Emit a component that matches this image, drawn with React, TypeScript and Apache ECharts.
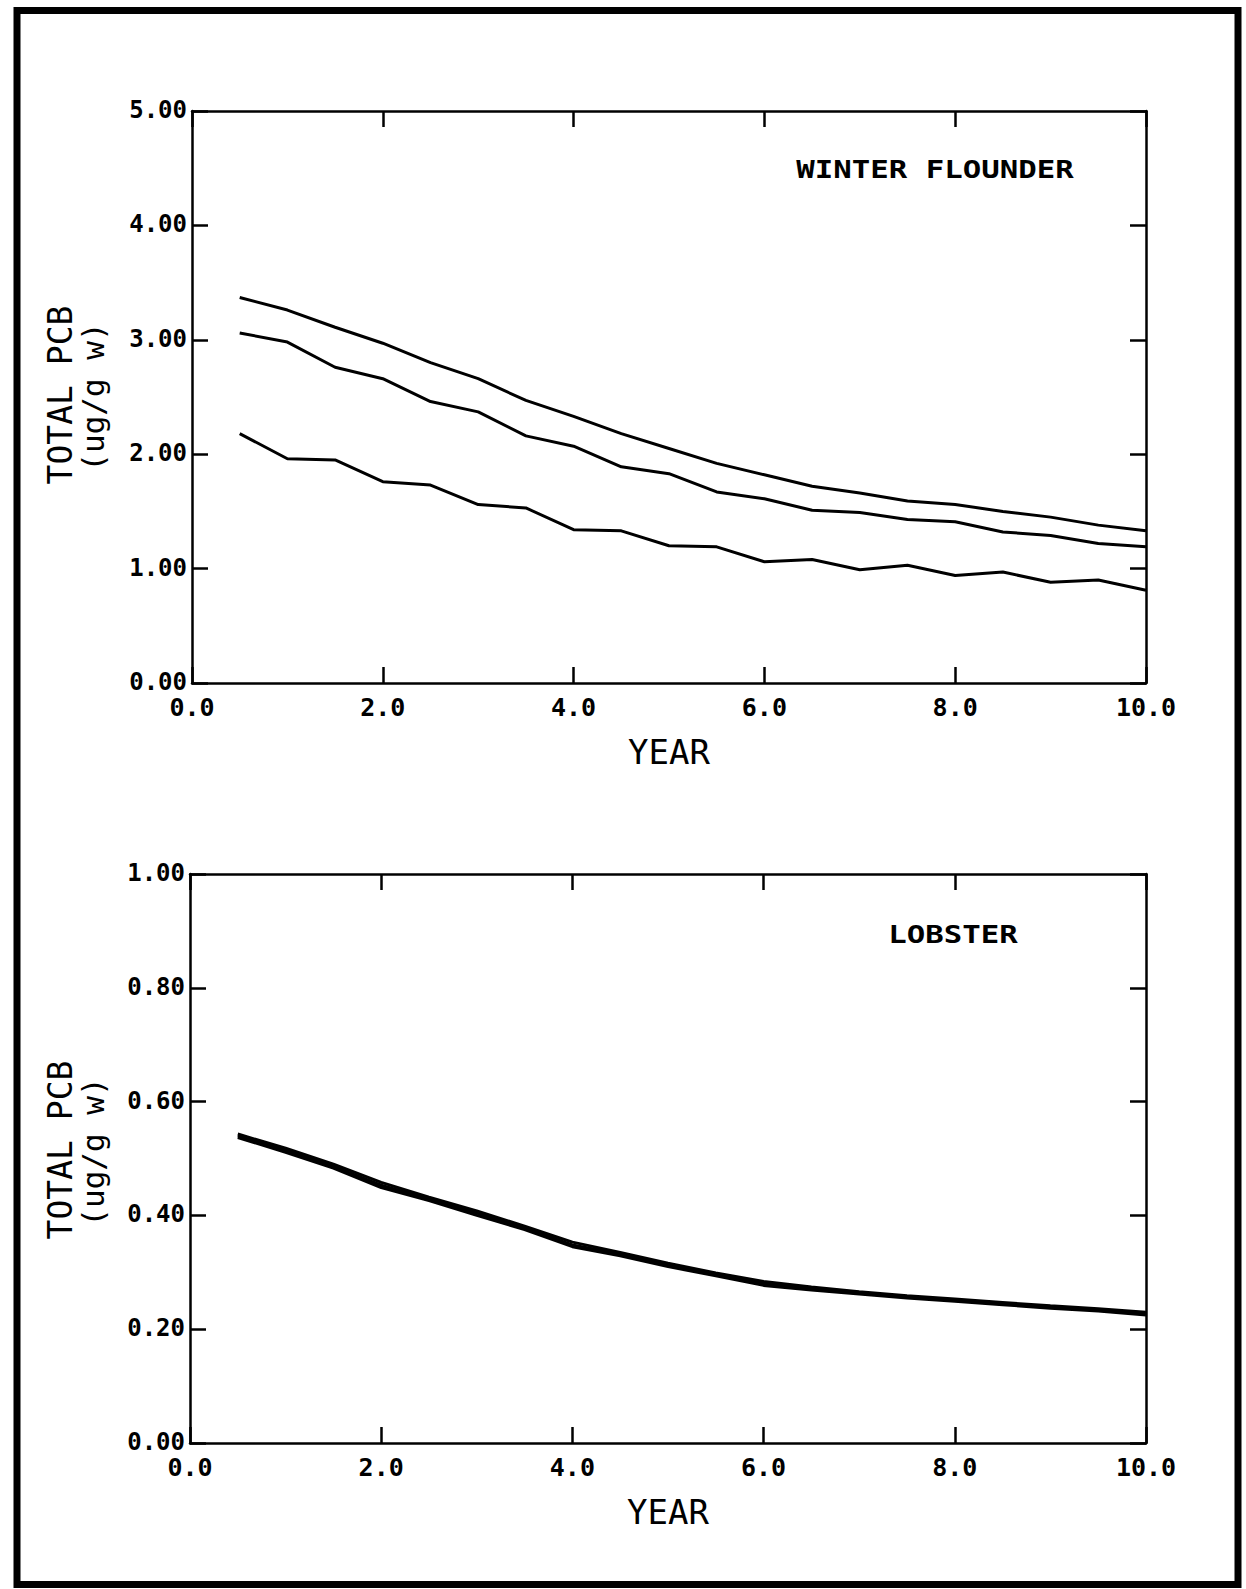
import React, { useEffect, useRef } from "react";
import * as echarts from "echarts";

const years = [0.5, 1.0, 1.5, 2.0, 2.5, 3.0, 3.5, 4.0, 4.5, 5.0, 5.5, 6.0, 6.5, 7.0, 7.5, 8.0, 8.5, 9.0, 9.5, 10.0];

const flounderUpper = [3.37, 3.26, 3.11, 2.97, 2.80, 2.66, 2.47, 2.33, 2.18, 2.05, 1.92, 1.82, 1.72, 1.66, 1.59, 1.56, 1.50, 1.45, 1.38, 1.33];
const flounderMiddle = [3.06, 2.98, 2.76, 2.66, 2.46, 2.37, 2.16, 2.07, 1.89, 1.83, 1.67, 1.61, 1.51, 1.49, 1.43, 1.41, 1.32, 1.29, 1.22, 1.19];
const flounderLower = [2.18, 1.96, 1.95, 1.76, 1.73, 1.56, 1.53, 1.34, 1.33, 1.20, 1.19, 1.06, 1.08, 0.99, 1.03, 0.94, 0.97, 0.88, 0.90, 0.81];

const lobsterA = [0.540, 0.514, 0.486, 0.453, 0.429, 0.404, 0.378, 0.348, 0.332, 0.313, 0.297, 0.280, 0.271, 0.264, 0.257, 0.251, 0.245, 0.239, 0.234, 0.228];
const lobsterB = [0.543, 0.518, 0.490, 0.458, 0.432, 0.408, 0.381, 0.353, 0.335, 0.316, 0.299, 0.284, 0.274, 0.266, 0.259, 0.253, 0.247, 0.241, 0.236, 0.230];
const lobsterC = [0.537, 0.511, 0.483, 0.449, 0.426, 0.400, 0.375, 0.345, 0.329, 0.310, 0.294, 0.277, 0.269, 0.262, 0.255, 0.249, 0.243, 0.237, 0.232, 0.225];

const xTitle = "YEAR";
const yTitle1 = "TOTAL PCB";
const yTitle2 = "(ug/g w)";
const panelTitles = ["WINTER FLOUNDER", "LOBSTER"];

const MONO = "'DejaVu Sans Mono', monospace";

export default function App() {
  const ref = useRef<HTMLDivElement>(null);

  useEffect(() => {
    document.body.style.margin = "0";
    const chart = echarts.init(ref.current!, null, { renderer: "svg" });

    const axisLine = { show: true, onZero: false, lineStyle: { color: "#000", width: 2.5 } };
    const axisTick = { show: true, inside: true, length: 16, lineStyle: { color: "#000", width: 2.5 } };

    const xAxes = (g: number) => [
      {
        type: "value", gridIndex: g, min: 0, max: 10, interval: 2, position: "bottom",
        axisLine, axisTick, splitLine: { show: false },
        axisLabel: {
          margin: 12, fontFamily: MONO, fontSize: 25, fontWeight: "bold", color: "#000",
          formatter: (v: number) => v.toFixed(1),
        },
        name: xTitle, nameLocation: "middle", nameGap: 52,
        nameTextStyle: { fontFamily: MONO, fontSize: 34, color: "#000", lineHeight: 34 },
      },
      {
        type: "value", gridIndex: g, min: 0, max: 10, interval: 2, position: "top",
        axisLine, axisTick, splitLine: { show: false }, axisLabel: { show: false },
      },
    ];

    const yAxes = (g: number, max: number, interval: number) => [
      {
        type: "value", gridIndex: g, min: 0, max, interval, position: "left",
        axisLine, axisTick, splitLine: { show: false },
        axisLabel: {
          margin: 5, fontFamily: MONO, fontSize: 24, fontWeight: "bold", color: "#000",
          verticalAlign: "bottom", lineHeight: 2,
          formatter: (v: number) => v.toFixed(2),
        },
      },
      {
        type: "value", gridIndex: g, min: 0, max, interval, position: "right",
        axisLine, axisTick, splitLine: { show: false }, axisLabel: { show: false },
      },
    ];

    const line = (data: number[], xi: number, yi: number) => ({
      type: "line", xAxisIndex: xi, yAxisIndex: yi,
      data: years.map((x, i) => [x, data[i]]),
      symbol: "none", showSymbol: false, silent: true,
      lineStyle: { color: "#000", width: 3 },
    });

    const titleText = (text: string, x: number, y: number) => ({
      type: "text", x, y, scaleX: 1.28,
      style: { text, fontFamily: MONO, fontSize: 24, fontWeight: "bold", fill: "#000", textAlign: "center", textVerticalAlign: "middle" },
    });

    const yTitle = (text: string, x: number, y: number, size: number) => ({
      type: "text", x, y, rotation: Math.PI / 2,
      style: { text, fontFamily: MONO, fontSize: size, fill: "#000", textAlign: "center", textVerticalAlign: "middle" },
    });

    chart.setOption({
      animation: false,
      backgroundColor: "#fff",
      grid: [
        { left: 192, top: 111, width: 954, height: 572 },
        { left: 190, top: 874, width: 956, height: 569 },
      ],
      xAxis: [...xAxes(0), ...xAxes(1)],
      yAxis: [...yAxes(0, 5, 1), ...yAxes(1, 1, 0.2)],
      series: [
        line(flounderUpper, 0, 0),
        line(flounderMiddle, 0, 0),
        line(flounderLower, 0, 0),
        line(lobsterA, 2, 2),
        line(lobsterB, 2, 2),
        line(lobsterC, 2, 2),
      ],
      graphic: [
        {
          type: "rect", shape: { x: 17, y: 10.5, width: 1221, height: 1574 },
          style: { fill: "none", stroke: "#000", lineWidth: 7 },
        },
        titleText(panelTitles[0], 935, 169),
        titleText(panelTitles[1], 953, 934),
        yTitle(yTitle1, 60, 395, 33),
        yTitle(yTitle2, 93, 397, 31),
        yTitle(yTitle1, 60, 1150, 33),
        yTitle(yTitle2, 93, 1152, 31),
      ],
    });

    return () => chart.dispose();
  }, []);

  return <div ref={ref} style={{ width: 1246, height: 1589, background: "#fff" }} />;
}
